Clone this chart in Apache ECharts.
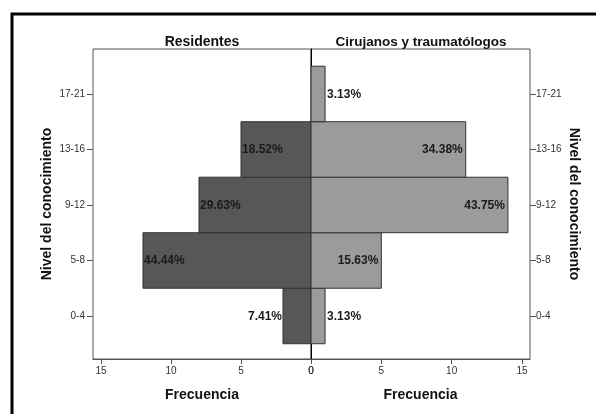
<!DOCTYPE html>
<html>
<head>
<meta charset="utf-8">
<script src="https://cdn.jsdelivr.net/npm/echarts@6/dist/echarts.min.js"></script>
<style>html,body{margin:0;padding:0;background:#fff}#c{width:596px;height:414px}</style>
</head>
<body>
<div id="c"></div>
<script>
var categories = ['0-4', '5-8', '9-12', '13-16', '17-21'];
var residentes = [2, 12, 8, 5, 0];
var cirujanos = [1, 5, 14, 11, 1];
var residentesPct = ['7.41%', '44.44%', '29.63%', '18.52%', ''];
var cirujanosPct = ['3.13%', '15.63%', '43.75%', '34.38%', '3.13%'];
var xTicks = [0, 5, 10, 15];
var yTicks = [0, 1, 2, 3, 4];

var FONT = '"Liberation Sans", Arial, sans-serif';
var chart = echarts.init(document.getElementById('c'), null, {renderer: 'canvas'});

function makeRender(side, fill, pcts) {
  return function (params, api) {
    var v = api.value(0), idx = api.value(1);
    if (!v) return null;
    var p0 = api.coord([0, idx]);
    var p1 = api.coord([v, idx]);
    var h = api.size([0, 1])[1];
    var x0 = Math.min(p0[0], p1[0]);
    var w = Math.abs(p1[0] - p0[0]);
    var label = pcts[params.dataIndex];
    var fits = w > 44;
    var tx, align;
    if (side === 'left') {
      if (fits) { tx = p1[0] + 1; align = 'left'; }
      else { tx = p1[0] - 1; align = 'right'; }
    } else {
      if (fits) { tx = p1[0] - 3; align = 'right'; }
      else { tx = p1[0] + 2; align = 'left'; }
    }
    return {
      type: 'group',
      children: [
        {type: 'rect', shape: {x: x0, y: p0[1] - h / 2, width: w, height: h},
         style: {fill: fill, stroke: '#333333', lineWidth: 1}},
        {type: 'text', x: tx, y: p0[1] + 0.5, z2: 10,
         style: {text: label, textAlign: align, textVerticalAlign: 'middle',
                 font: 'bold 12px ' + FONT, fill: '#1a1a1a'}}
      ]
    };
  };
}

var yMin = -0.775, yMax = 4.81;
var nameStyle = {fontFamily: FONT, fontWeight: 'bold', fontSize: 14, color: '#111'};
var yCommon = {
  type: 'value', min: yMin, max: yMax,
  splitLine: {show: false},
  axisLine: {show: false, onZero: false}
};

var option = {
  animation: false,
  backgroundColor: '#ffffff',
  graphic: [
    {type: 'rect', shape: {x: 12, y: 14, width: 700, height: 500},
     style: {fill: 'none', stroke: '#000', lineWidth: 3}, silent: true}
  ],
  title: [
    {text: 'Residentes', left: 202, top: 35, padding: 0, textAlign: 'center',
     textStyle: nameStyle},
    {text: 'Cirujanos y traumatólogos', left: 421, top: 35, padding: 0, textAlign: 'center',
     textStyle: Object.assign({}, nameStyle, {fontSize: 13.5})}
  ],
  grid: [
    {left: 93, right: 285, top: 49, bottom: 55, show: true, borderColor: '#555', borderWidth: 1, backgroundColor: '#fff'},
    {left: 311, right: 66, top: 49, bottom: 55, show: true, borderColor: '#555', borderWidth: 1, backgroundColor: '#fff'}
  ],
  xAxis: [
    {gridIndex: 0, type: 'value', inverse: true, min: 0, max: 15.57, position: 'bottom',
     name: 'Frecuencia', nameLocation: 'middle', nameGap: 29, nameTextStyle: nameStyle,
     splitLine: {show: false},
     axisLine: {show: true, onZero: false, lineStyle: {color: '#555'}},
     axisTick: {show: true, length: 5, lineStyle: {color: '#555'}, customValues: xTicks},
     axisLabel: {fontFamily: FONT, fontSize: 10, color: '#333', margin: 7, customValues: xTicks}},
    {gridIndex: 1, type: 'value', min: 0, max: 15.57, position: 'bottom',
     name: 'Frecuencia', nameLocation: 'middle', nameGap: 29, nameTextStyle: nameStyle,
     splitLine: {show: false},
     axisLine: {show: true, onZero: false, lineStyle: {color: '#555'}},
     axisTick: {show: true, length: 5, lineStyle: {color: '#555'}, customValues: xTicks},
     axisLabel: {fontFamily: FONT, fontSize: 10, color: '#333', margin: 7, customValues: xTicks}}
  ],
  yAxis: [
    Object.assign({}, yCommon, {
      gridIndex: 0, position: 'left',
      name: 'Nivel del conocimiento', nameLocation: 'middle', nameRotate: 90, nameGap: 39,
      nameTextStyle: nameStyle,
      axisTick: {show: true, length: 6, lineStyle: {color: '#555'}, customValues: yTicks},
      axisLabel: {fontFamily: FONT, fontSize: 10, color: '#333', margin: 8, customValues: yTicks,
                  formatter: function (v) { return categories[Math.round(v)]; }}
    }),
    Object.assign({}, yCommon, {
      gridIndex: 1, position: 'right',
      name: 'Nivel del conocimiento', nameLocation: 'middle', nameRotate: -90, nameGap: 37,
      nameTextStyle: nameStyle,
      axisTick: {show: true, length: 6, lineStyle: {color: '#555'}, customValues: yTicks},
      axisLabel: {fontFamily: FONT, fontSize: 10, color: '#333', margin: 6, customValues: yTicks,
                  formatter: function (v) { return categories[Math.round(v)]; }}
    }),
    Object.assign({}, yCommon, {
      gridIndex: 1, position: 'left',
      axisLine: {show: true, onZero: false, lineStyle: {color: '#000', width: 1}},
      axisTick: {show: false}, axisLabel: {show: false}
    })
  ],
  series: [
    {type: 'custom', xAxisIndex: 0, yAxisIndex: 0,
     renderItem: makeRender('left', '#575757', residentesPct),
     data: residentes.map(function (v, i) { return [v, i]; })},
    {type: 'custom', xAxisIndex: 1, yAxisIndex: 1,
     renderItem: makeRender('right', '#9b9b9b', cirujanosPct),
     data: cirujanos.map(function (v, i) { return [v, i]; })}
  ]
};
chart.setOption(option);
</script>
</body>
</html>
